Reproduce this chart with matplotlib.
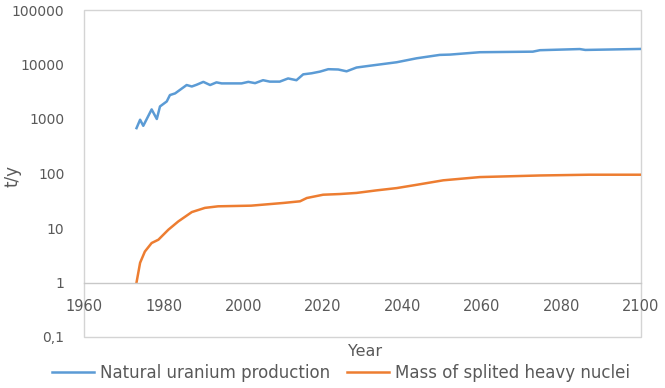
import matplotlib
matplotlib.use('Agg')
import matplotlib.pyplot as plt
from matplotlib.patches import Rectangle

# Natural uranium production (t/y)
uran_years = [1973.2, 1974.1, 1974.9, 1977.0, 1978.3, 1979.1, 1980.8, 1981.6, 1982.9,
              1985.8, 1987.1, 1988.3, 1990.0, 1991.7, 1993.3, 1994.6, 1999.6, 2001.3,
              2003.0, 2005.0, 2006.7, 2009.2, 2011.3, 2013.4, 2015.1, 2017.2, 2019.3,
              2021.4, 2023.9, 2026.0, 2028.5, 2031.9, 2038.6, 2043.6, 2049.4, 2052.0,
              2059.5, 2072.8, 2074.6, 2084.6, 2086.0, 2100.0]
uran_vals = [680, 970, 750, 1500, 1000, 1700, 2100, 2750, 2950,
             4200, 3950, 4250, 4800, 4200, 4700, 4500, 4500, 4800,
             4550, 5150, 4850, 4850, 5550, 5150, 6600, 6900, 7400,
             8200, 8100, 7500, 8800, 9500, 11000, 13000, 15000, 15200,
             16800, 17200, 18300, 19200, 18500, 19300]

# Mass of splited heavy nuclei (t/y)
mass_years = [1973.2, 1974.1, 1975.3, 1977.0, 1978.7, 1981.2, 1983.7, 1987.1, 1990.4,
              1993.7, 2002.0, 2010.1, 2014.3, 2016.0, 2020.1, 2024.3, 2028.5, 2033.5,
              2038.6, 2043.6, 2050.3, 2059.5, 2074.6, 2087.0, 2100.0]
mass_vals = [1.0, 2.3, 3.7, 5.3, 6.1, 9.3, 13.2, 19.6, 23.4,
             25.0, 25.7, 28.8, 30.9, 35.5, 40.8, 42.0, 44.0, 49.0,
             54.0, 62.0, 75.0, 86.0, 92.0, 95.0, 95.0]

x_ticks = [1960, 1980, 2000, 2020, 2040, 2060, 2080, 2100]
y_ticks = [0.1, 1, 10, 100, 1000, 10000, 100000]
y_labels = ['0,1', '1', '10', '100', '1000', '10000', '100000']

txt = '#595959'
plt.rcParams['font.family'] = ['DejaVu Sans']

fig = plt.figure(figsize=(6.65, 3.88), dpi=100)
ax = fig.add_axes([84 / 665, 1 - 337 / 388, (641 - 84) / 665, (337 - 10) / 388])

ax.plot(uran_years, uran_vals, color='#5b9bd5', lw=1.8, label='Natural uranium production')
ax.plot(mass_years, mass_vals, color='#ed7d31', lw=1.8, label='Mass of splited heavy nuclei')

ax.set_yscale('log')
ax.set_ylim(0.1, 100000)
ax.set_xlim(1960, 2100)
ax.set_yticks(y_ticks)
ax.set_yticklabels(y_labels)
ax.minorticks_off()
ax.set_xticks(x_ticks)
ax.set_xticklabels([str(t) for t in x_ticks])

for s in ['top', 'left', 'right']:
    ax.spines[s].set_visible(False)
ax.spines['bottom'].set_position(('data', 1))
ax.spines['bottom'].set_color('#c8c8c8')
ax.spines['bottom'].set_linewidth(1)
ax.add_patch(Rectangle((0, 0), 1, 1, transform=ax.transAxes, fill=False,
                       edgecolor='#d4d4d4', lw=1, clip_on=False, zorder=0))

ax.tick_params(axis='both', length=0, labelcolor=txt)
ax.tick_params(axis='x', pad=12, labelsize=10.5)
ax.tick_params(axis='y', pad=14, labelsize=10)

fig.text(365 / 665, 1 - 352 / 388, 'Year', ha='center', va='center', fontsize=11.5, color=txt)
fig.text(13 / 665, 1 - 176 / 388, 't/y', ha='center', va='center', rotation=90,
         fontsize=12, color=txt)

leg = fig.legend(loc='center', bbox_to_anchor=(341 / 665, 1 - 373 / 388), ncol=2,
                 frameon=False, fontsize=12, handlelength=2.5, columnspacing=1.05,
                 handletextpad=0.35)
for t in leg.get_texts():
    t.set_color(txt)

fig.savefig('out.png', dpi=100)
